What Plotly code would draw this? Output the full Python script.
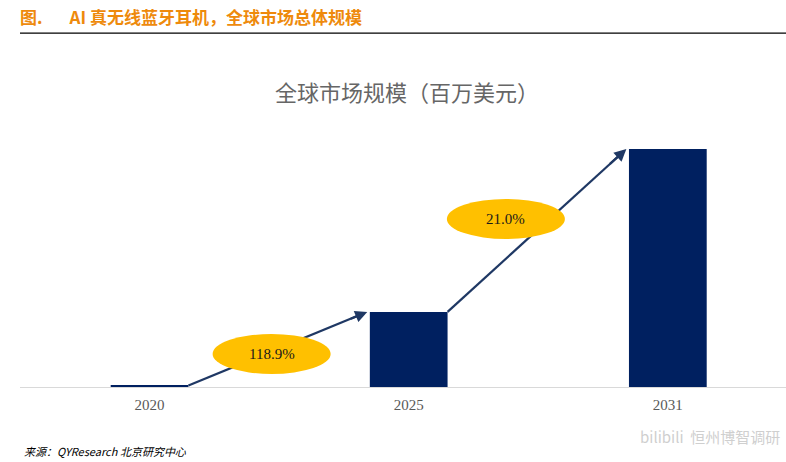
import plotly.graph_objects as go

# 全球市场规模（百万美元）
years = ["2020", "2025", "2031"]
market_size = [20, 1000, 3170]
cagr_labels = ["118.9%", "21.0%"]

navy = "#002060"
arrow_col = "#1F3864"
gold = "#FFC000"

fig = go.Figure()

fig.add_trace(go.Bar(
    x=[0, 1, 2],
    y=market_size,
    width=0.30,
    marker=dict(color=navy, line=dict(width=0)),
    hoverinfo="skip",
))

shapes = []
annotations = []

# growth arrows: line body as a shape (so the ellipse can sit on top),
# arrow head as a short annotation at the tip
for i in range(2):
    x0, y0 = i + 0.15, market_size[i]
    x1, y1 = i + 1 - 0.16, market_size[i + 1]
    shapes.append(dict(type="line", xref="x", yref="y",
                       x0=x0, y0=y0, x1=x1 - 0.02, y1=y1 - (y1 - y0) * 0.02 / (x1 - x0),
                       line=dict(color=arrow_col, width=2.2), layer="above"))
    t = 0.9
    annotations.append(dict(
        x=x1, y=y1,
        ax=x0 + t * (x1 - x0), ay=y0 + t * (y1 - y0),
        xref="x", yref="y", axref="x", ayref="y",
        showarrow=True, arrowhead=2, arrowsize=1.1, arrowwidth=2.2,
        arrowcolor=arrow_col, text="",
    ))

# yellow CAGR ellipses
ellipse_pos = [(0.471, 440), (1.375, 2238)]
for (cx, cy), lab in zip(ellipse_pos, cagr_labels):
    shapes.append(dict(
        type="circle", xref="x", yref="y",
        xsizemode="pixel", ysizemode="pixel",
        xanchor=cx, yanchor=cy,
        x0=-59, x1=59, y0=-20, y1=20,
        fillcolor=gold, line=dict(width=0), layer="above",
    ))
    annotations.append(dict(
        x=cx, y=cy, xref="x", yref="y", text=lab, showarrow=False,
        font=dict(family="Liberation Serif", size=15, color="#1a1a1a"),
    ))

# header line
shapes.append(dict(type="line", xref="paper", yref="paper",
                   x0=0.0, x1=1.05, y0=1.433, y1=1.433,
                   line=dict(color="black", width=1.2)))

annotations += [
    dict(text="<b>图.&nbsp;&nbsp;&nbsp;&nbsp;&nbsp;&nbsp;&nbsp;AI 真无线蓝牙耳机，全球市场总体规模</b>",
         xref="paper", yref="paper", x=-0.002, y=1.498, xanchor="left", yanchor="middle",
         showarrow=False, font=dict(family="Noto Sans CJK SC", size=17, color="#EE8A0C")),
    dict(text="全球市场规模（百万美元）", xref="paper", yref="paper",
         x=0.505, y=1.199, xanchor="center", yanchor="middle", showarrow=False,
         font=dict(family="Noto Sans CJK SC", size=22, color="#666666")),
    dict(text="<i>来源：QYResearch 北京研究中心</i>", xref="paper", yref="paper",
         x=0.002, y=-0.259, xanchor="left", yanchor="middle", showarrow=False,
         font=dict(family="Noto Sans CJK SC", size=11, color="#000000")),
    dict(text="bilibili&nbsp;&nbsp;恒州博智调研", xref="paper", yref="paper",
         x=0.995, y=-0.202, xanchor="right", yanchor="middle", showarrow=False,
         font=dict(family="Noto Sans CJK SC", size=15, color="#CFCFCF")),
]

fig.update_layout(
    width=786, height=462,
    margin=dict(l=20, r=0, t=140, b=75),
    paper_bgcolor="white", plot_bgcolor="white",
    showlegend=False,
    xaxis=dict(
        tickmode="array", tickvals=[0, 1, 2], ticktext=years,
        range=[-0.5, 2.456], showgrid=False, zeroline=False,
        showline=True, linecolor="#D9D9D9", linewidth=1,
        ticks="", ticklabelstandoff=4,
        tickfont=dict(family="Liberation Serif", size=15, color="#595959"),
    ),
    yaxis=dict(range=[0, 3290], visible=False),
    shapes=shapes,
    annotations=annotations,
)

fig.write_html("out.html", config={"displayModeBar": False},
               post_script="document.body.style.margin='0';")
